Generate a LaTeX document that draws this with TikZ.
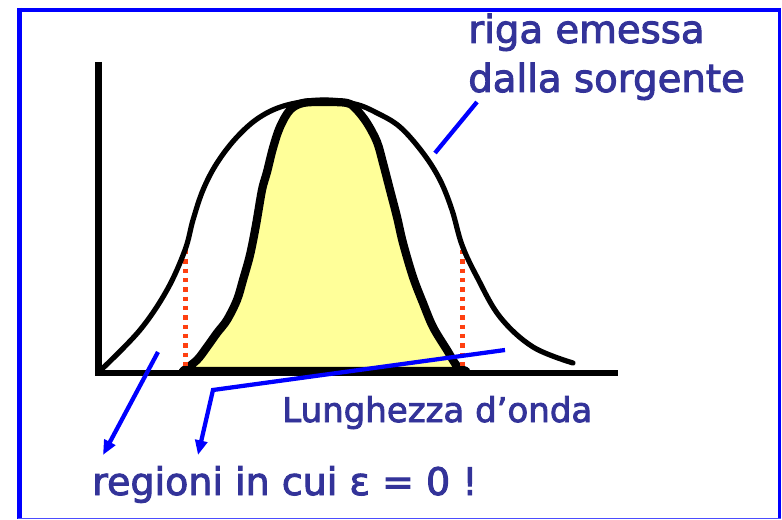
\documentclass[tikz,border=0pt]{standalone}
\usepackage{fontspec}
\setmainfont{DejaVu Sans}[FakeBold=2.5]
\usetikzlibrary{arrows.meta}
\definecolor{frameblue}{RGB}{0,0,255}
\definecolor{txtblue}{RGB}{51,51,153}
\definecolor{fillyel}{RGB}{255,255,153}
\definecolor{dotred}{RGB}{255,64,16}
\tikzset{
  lbl/.style={inner sep=0pt, anchor=base west, text=txtblue},
  curveline/.style={line width=3.9pt, line join=round, line cap=round},
  blueline/.style={draw=frameblue, line width=3.2pt},
  bluearrow/.style={blueline, -{Triangle[length=11pt,width=9pt]}},
  reddots/.style={draw=dotred, line width=4pt, dash pattern=on 3.2pt off 3.8pt},
}
\begin{document}
\begin{tikzpicture}[x=0.75pt,y=-0.75pt]
\useasboundingbox (0,0) rectangle (782,520);
% frame
\draw[frameblue, line width=3.4pt] (17.5,10) -- (781,10);
\draw[frameblue, line width=3.4pt] (19.7,8) -- (19.7,519);
\draw[frameblue, line width=1.6pt] (779.5,8) -- (779.5,519);
\draw[frameblue!70!white, line width=1.1pt] (18,518.6) -- (781,518.6);
% inner filled line
\filldraw[fill=fillyel, draw=black, line width=6.2pt, line join=round]
  plot[smooth, tension=0.55] coordinates {(183,371) (197,360) (207,347) (217,333) (227,320) (237,300) (243,280) (250,255) (256,225) (262,190) (267,172) (273,148) (280,127) (290,110) (303,103) (325,102) (347,103) (356,109) (367,123) (377,142) (383,163) (390,190) (397,217) (403,243) (413,277) (423,303) (433,327) (447,350) (457,366) (466,371)}
  -- cycle;
% red dotted lines
\coordinate (r1t) at (185.5,250); \coordinate (r1b) at (185.5,371);
\coordinate (r2t) at (462.5,250); \coordinate (r2b) at (462.5,371);
\draw[reddots] (r1t) -- (r1b);
\draw[reddots] (r2t) -- (r2b);
% outer curve (source line)
\draw[curveline] plot[smooth, tension=0.6] coordinates {(103,368) (140,330) (167,290) (185,250) (193,220) (203,190) (217,163) (237,137) (260,117) (287,105) (323,100) (355,104) (377,113) (400,127) (423,153) (440,180) (452,210) (462,245) (477,277) (500,317) (533,347) (573,363)};
% axes
\coordinate (ytop) at (98.5,62);
\coordinate (orig) at (98.5,373);
\coordinate (xend) at (618,373);
\draw[line width=5.2pt, line join=miter] (ytop) -- (orig) -- (xend);
% labels
\node[lbl, font=\fontsize{29pt}{34pt}\selectfont] (t1) at (468,43) {riga emessa};
\node[lbl, font=\fontsize{29pt}{34pt}\selectfont] (t2) at (468,92) {dalla sorgente};
\node[lbl, font=\fontsize{25.5pt}{30pt}\selectfont] (t3) at (282,422) {Lunghezza d’onda};
\node[lbl, font=\fontsize{28.5pt}{32pt}\selectfont] (t4) at (92,495) {regioni in cui ε = 0 !};
% blue connectors
\coordinate (l0) at (435,153); \coordinate (l1) at (477,102);
\draw[blueline] (l0) -- (l1);
\coordinate (a0) at (158,352); \coordinate (a1) at (103,455);
\draw[bluearrow] (a0) -- (a1);
\coordinate (p0) at (505,350); \coordinate (p1) at (213,390); \coordinate (p2) at (198,455);
\draw[bluearrow, line join=miter] (p0) -- (p1) -- (p2);
\end{tikzpicture}
\end{document}
